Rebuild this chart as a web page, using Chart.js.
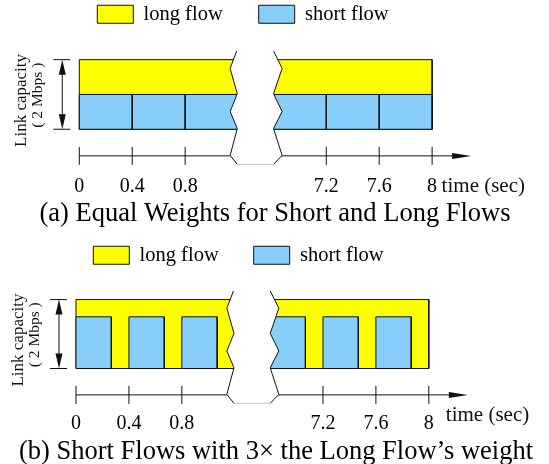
<!DOCTYPE html>
<html>
<head>
<meta charset="utf-8">
<title>Link sharing between a long flow and short flows</title>
<script src="https://cdn.jsdelivr.net/npm/chart.js@4/dist/chart.umd.min.js"></script>
<style>
  html, body { margin: 0; padding: 0; background: #fff; }
  #wrap { position: relative; width: 549px; height: 464px; }
  #wrap canvas { position: absolute; left: 0; display: block; }
</style>
</head>
<body>
<div id="wrap">
  <canvas id="chartA" width="549" height="232" style="top:0"></canvas>
  <canvas id="chartB" width="549" height="232" style="top:232px"></canvas>
</div>
<script>
// ---- data -------------------------------------------------------------
const tickTimes  = [0, 0.4, 0.8, 7.2, 7.6, 8];          // seconds
const tickLabels = ['0', '0.4', '0.8', '7.2', '7.6', '8'];

const linkCapacity = 2;        // Mbps
const longFlowSpan = [0, 8];   // the long flow is active for the whole run (s)

// (a) equal weights: each short flow takes half of the link for 0.4 s
const shortStartA = [0, 0.4, 0.8, 6.8, 7.2, 7.6];
const shortEndA   = [0.4, 0.8, 1.2, 7.2, 7.6, 8];
const shortRateA  = [1, 1, 1, 1, 1, 1];                 // Mbps

// (b) short flows weighted 3x: 1.5 Mbps, so each one finishes after ~0.27 s
const shortStartB = [0, 0.4, 0.8, 6.8, 7.2, 7.6];
const shortEndB   = [0.267, 0.667, 1.067, 7.067, 7.467, 7.867];
const shortRateB  = [1.5, 1.5, 1.5, 1.5, 1.5, 1.5];     // Mbps

// ---- broken time axis -------------------------------------------------
// the middle of the run is cut out of the axis; later times slide left
const HIDDEN_SPAN = 16 / 3;
const axisPos = t => (t < 4 ? t : t - HIDDEN_SPAN);

// outline of the axis break (axis units / Mbps), drawn as a white gap
const breakLeft  = [[1.19, 2.25], [1.14, 1.75], [1.194, 1.02], [1.14, 0.51], [1.194, 0.02], [1.14, -0.75], [1.194, -1.01]];
const breakRight = [[1.468, 2.25], [1.533, 1.75], [1.468, 1.02], [1.533, 0.51], [1.468, 0.02], [1.533, -0.75], [1.468, -1.01]];

// ---- styles -----------------------------------------------------------
const SERIF  = "'Liberation Serif', 'DejaVu Serif', 'Times New Roman', serif";
const YELLOW = '#ffff00';
const BLUE   = '#87cefa';
const INK    = '#111111';

// closed rectangle outline from t0..t1 and rate r0..r1
function rectPoints(t0, t1, r0, r1) {
  const a = axisPos(t0), b = axisPos(t1);
  return [{x: a, y: r0}, {x: a, y: r1}, {x: b, y: r1}, {x: b, y: r0}, {x: a, y: r0}];
}

function buildDatasets(starts, ends, rates) {
  const common = { fill: 'shape', borderWidth: 1, borderColor: INK, pointRadius: 0, tension: 0, borderJoinStyle: 'miter' };
  const sets = [Object.assign({
    label: 'long flow',
    data: rectPoints(longFlowSpan[0], longFlowSpan[1], 0, linkCapacity),
    backgroundColor: YELLOW,
    order: 1
  }, common)];
  starts.forEach((s, i) => {
    sets.push(Object.assign({
      label: 'short flow',
      data: rectPoints(s, ends[i], 0, rates[i]),
      backgroundColor: BLUE,
      order: 0
    }, common));
  });
  return sets;
}

// axis arrows, tick marks, the break gap and the side labels
const decorPlugin = {
  id: 'flowDecor',
  afterDatasetsDraw(chart, args, o) {
    const ctx = chart.ctx;
    const sx = chart.scales.x, sy = chart.scales.y;
    const X = t => sx.getPixelForValue(axisPos(t));
    const U = u => sx.getPixelForValue(u);
    const Y = v => sy.getPixelForValue(v);

    ctx.save();
    ctx.strokeStyle = INK;
    ctx.fillStyle = INK;
    ctx.lineWidth = 1;

    const seg = (x1, y1, x2, y2) => { ctx.beginPath(); ctx.moveTo(x1, y1); ctx.lineTo(x2, y2); ctx.stroke(); };
    const tri = (p) => { ctx.beginPath(); ctx.moveTo(p[0], p[1]); ctx.lineTo(p[2], p[3]); ctx.lineTo(p[4], p[5]); ctx.closePath(); ctx.fill(); };

    // time axis with arrow
    const ay = Y(o.axisLevel);
    const xStart = X(tickTimes[0]);
    const xLast = X(tickTimes[tickTimes.length - 1]);
    const tip = xLast + 39;
    seg(xStart, ay, tip - 18, ay);
    tri([tip, ay, tip - 19, ay - 3, tip - 19, ay + 3]);
    tickTimes.forEach(t => seg(X(t), ay - 9, X(t), ay + 9));

    // white gap of the axis break
    ctx.beginPath();
    breakLeft.forEach((p, i) => i ? ctx.lineTo(U(p[0]), Y(p[1])) : ctx.moveTo(U(p[0]), Y(p[1])));
    breakRight.slice().reverse().forEach(p => ctx.lineTo(U(p[0]), Y(p[1])));
    ctx.closePath();
    ctx.fillStyle = '#ffffff';
    ctx.fill();
    ctx.fillStyle = INK;
    [breakLeft, breakRight].forEach(edge => {
      ctx.beginPath();
      edge.forEach((p, i) => i ? ctx.lineTo(U(p[0]), Y(p[1])) : ctx.moveTo(U(p[0]), Y(p[1])));
      ctx.stroke();
    });
    const lb = breakLeft[breakLeft.length - 1], rb = breakRight[breakRight.length - 1];
    ctx.strokeStyle = '#c8c8c8';
    seg(U(lb[0]), Y(lb[1]), U(rb[0]), Y(rb[1]));
    ctx.strokeStyle = INK;

    // link capacity double arrow
    const cx = X(0) - 17;
    const yTop = Y(linkCapacity), yBot = Y(0);
    seg(cx, yTop + 14, cx, yBot - 14);
    tri([cx, yTop, cx - 3.5, yTop + 15, cx + 3.5, yTop + 15]);
    tri([cx, yBot, cx - 3.5, yBot - 15, cx + 3.5, yBot - 15]);
    seg(cx - 9, yTop, cx + 8, yTop);
    seg(cx - 9, yBot, cx + 8, yBot);

    // rotated capacity labels
    const mid = (yTop + yBot) / 2;
    ctx.textAlign = 'center';
    ctx.textBaseline = 'middle';
    [['Link capacity', 17, -57.5, 6], ['( 2 Mbps )', 15.5, -41.5, 0.7]].forEach(([txt, size, dx, dy]) => {
      ctx.save();
      ctx.translate(X(0) + dx, mid + dy);
      ctx.rotate(-Math.PI / 2);
      ctx.font = size + 'px ' + SERIF;
      ctx.fillText(txt, 0, 0);
      ctx.restore();
    });

    // axis name
    ctx.textAlign = 'left';
    ctx.font = '21px ' + SERIF;
    ctx.fillText('time (sec)', xLast + o.timeDx, ay + o.timeDy);

    ctx.restore();
  }
};

function makeChart(id, c) {
  return new Chart(document.getElementById(id), {
    type: 'line',
    data: { datasets: buildDatasets(c.starts, c.ends, c.rates) },
    options: {
      responsive: false,
      animation: false,
      devicePixelRatio: 1,
      events: [],
      layout: { padding: c.padding },
      scales: {
        x: {
          type: 'linear',
          bounds: 'data',
          min: c.xMin,
          max: c.xMax,
          grid: { display: false, drawTicks: false },
          border: { display: false },
          afterBuildTicks: s => { s.ticks = tickTimes.map(t => ({ value: axisPos(t) })); },
          ticks: {
            autoSkip: false,
            maxRotation: 0,
            padding: c.tickPad,
            color: '#000',
            font: { family: SERIF, size: 20, lineHeight: 0.5 },
            callback: (v, i) => tickLabels[i]
          }
        },
        y: {
          min: c.yMin,
          max: c.yMax,
          ticks: { display: false },
          grid: { display: false, drawTicks: false },
          border: { display: false },
          afterFit: s => { s.width = c.sideWidth; }
        }
      },
      plugins: {
        tooltip: { enabled: false },
        legend: {
          position: 'top',
          align: 'start',
          fullSize: false,
          labels: {
            boxWidth: 36,
            boxHeight: 18,
            padding: c.legendGap,
            color: '#000',
            font: { family: SERIF, size: 20.5 },
            sort: (a, b) => a.datasetIndex - b.datasetIndex,
            filter: (item, data) => data.datasets.findIndex(d => d.label === item.text) === item.datasetIndex
          }
        },
        title: {
          display: true,
          position: 'bottom',
          text: c.title,
          color: '#000',
          font: { family: SERIF, size: 26.5, weight: 'normal', lineHeight: 0.5 },
          padding: { top: 0, bottom: c.titlePad }
        },
        flowDecor: { axisLevel: -0.765, timeDx: c.timeDx, timeDy: c.timeDy }
      }
    },
    plugins: [decorPlugin]
  });
}

makeChart('chartA', {
  starts: shortStartA, ends: shortEndA, rates: shortRateA,
  title: '(a) Equal Weights for Short and Long Flows',
  padding: { top: -32, left: 1, right: 0, bottom: 0 },
  sideWidth: 60.3, legendGap: 36,
  xMin: -0.136, xMax: 3.55,
  yMin: -1.034, yMax: 2.723,
  tickPad: 16, titlePad: 11.5,
  timeDx: 9.5, timeDy: 30.5
});

makeChart('chartB', {
  starts: shortStartB, ends: shortEndB, rates: shortRateB,
  title: '(b) Short Flows with 3\u00d7 the Long Flow\u2019s weight',
  padding: { top: -22, left: 3, right: 0, bottom: 0 },
  sideWidth: 55.3, legendGap: 35,
  xMin: -0.1338, xMax: 3.575,
  yMin: -0.952, yMax: 2.698,
  tickPad: 17.2, titlePad: 5,
  timeDx: 17, timeDy: 21
});
</script>
</body>
</html>
